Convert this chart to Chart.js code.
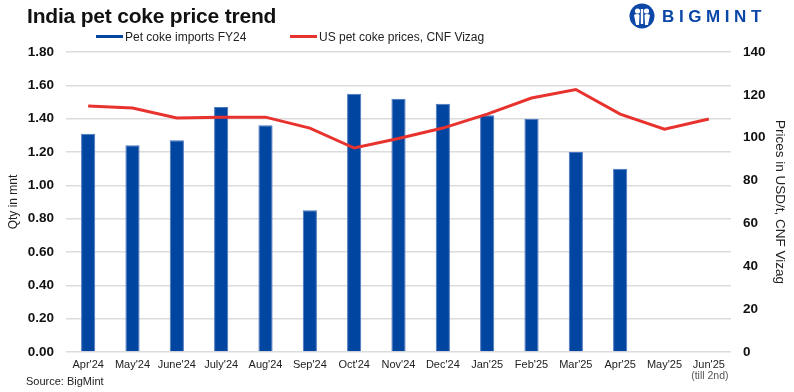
<!DOCTYPE html>
<html>
<head>
<meta charset="utf-8">
<script src="https://cdn.jsdelivr.net/npm/chart.js@4.4.0/dist/chart.umd.min.js"></script>
<style>
  html, body { margin: 0; padding: 0; background: #fff; }
  body { width: 794px; height: 392px; position: relative; overflow: hidden; font-family: "Liberation Sans", Arial, sans-serif; color: #111; }
  #chart { position: absolute; left: 0; top: 0; }
  .title { position: absolute; left: 27px; top: 4px; font-size: 21px; font-weight: bold; color: #111; letter-spacing: -0.2px; }
  .legend { position: absolute; top: 29px; font-size: 12px; color: #222; line-height: 16px; white-space: nowrap; }
  .legend span.sw { display: inline-block; width: 27px; height: 3px; vertical-align: middle; margin-right: 2px; position: relative; top: -1px; }
  .source { position: absolute; left: 26px; top: 375px; font-size: 11px; color: #222; }
  .logo { position: absolute; left: 629px; top: 3px; height: 26px; }
  .logo .txt { position: absolute; left: 33px; top: 4px; font-size: 17px; font-weight: bold; color: #0a47a6; letter-spacing: 4.6px; }
</style>
</head>
<body>
<canvas id="chart" width="794" height="392"></canvas>
<div class="title">India pet coke price trend</div>
<div class="legend" style="left:96px"><span class="sw" style="background:#0045a0"></span>Pet coke imports FY24</div>
<div class="legend" style="left:290px"><span class="sw" style="background:#e8322e"></span>US pet coke prices, CNF Vizag</div>
<div class="logo">
  <svg width="27" height="26" viewBox="0 0 27 26">
    <circle cx="13" cy="13" r="12.5" fill="#0a47a6"/>
    <circle cx="8.5" cy="8" r="2.6" fill="#fff"/>
    <circle cx="17.5" cy="8" r="2.6" fill="#fff"/>
    <rect x="11.8" y="6" width="2.4" height="15" fill="#fff"/>
    <path d="M5 12 Q8.5 10 10.5 12 L10 22 L7 22 Z" fill="#fff"/>
    <path d="M15.5 12 Q17.5 10 21 12 L19 22 L16 22 Z" fill="#fff"/>
  </svg>
  <div class="txt">BIGMINT</div>
</div>
<div class="source">Source: BigMint</div>

<script>
const months = ["Apr'24", "May'24", "June'24", "July'24", "Aug'24", "Sep'24", "Oct'24", "Nov'24",
                "Dec'24", "Jan'25", "Feb'25", "Mar'25", "Apr'25", "May'25", "Jun'25"];
const imports = [1.31, 1.24, 1.27, 1.47, 1.36, 0.85, 1.55, 1.52, 1.49, 1.42, 1.40, 1.20, 1.10, null, null];
const prices = [114.8, 113.9, 109.2, 109.6, 109.6, 104.5, 95.2, 99.6, 104.5, 111, 118.5, 122.5, 111, 104, 108.7];
const lastNote = '(till 2nd)';

const noteUnderLastTick = {
  id: 'noteUnderLastTick',
  afterDraw(chart) {
    const x = chart.scales.x.getPixelForValue(months.length - 1);
    const ctx = chart.ctx;
    ctx.save();
    ctx.font = '10.5px "Liberation Sans", Arial, sans-serif';
    ctx.fillStyle = '#555';
    ctx.textAlign = 'center';
    ctx.textBaseline = 'middle';
    ctx.fillText(lastNote, x + 1, 376);
    ctx.restore();
  }
};

const ctx = document.getElementById('chart').getContext('2d');
const chart = new Chart(ctx, {
  type: 'bar',
  data: {
    labels: months,
    datasets: [
      {
        type: 'line',
        label: 'US pet coke prices, CNF Vizag',
        data: prices,
        yAxisID: 'y1',
        borderColor: '#e8322e',
        borderWidth: 3,
        pointRadius: 0,
        tension: 0,
        order: 0
      },
      {
        type: 'bar',
        label: 'Pet coke imports FY24',
        data: imports,
        yAxisID: 'y',
        backgroundColor: '#0045a0',
        borderColor: '#4a74bd',
        borderWidth: 1,
        categoryPercentage: 1,
        barPercentage: 0.32,
        order: 1
      }
    ]
  },
  options: {
    responsive: false,
    animation: false,
    devicePixelRatio: 1,
    layout: { padding: { top: 52, bottom: 0, left: 0, right: 0 } },
    plugins: {
      legend: { display: false },
      tooltip: { enabled: false }
    },
    scales: {
      x: {
        grid: { display: false, drawTicks: false },
        border: { display: false },
        ticks: {
          color: '#222',
          font: { family: '"Liberation Sans", Arial, sans-serif', size: 11 },
          padding: 6,
          maxRotation: 0,
          autoSkip: false
        },
        afterFit(scale) { scale.height = 40; }
      },
      y: {
        position: 'left',
        min: 0,
        max: 1.8,
        grid: { color: '#dcdcdc', lineWidth: 1.5, drawTicks: false },
        border: { display: false },
        ticks: {
          stepSize: 0.2,
          padding: 12,
          color: '#111',
          font: { family: '"Liberation Sans", Arial, sans-serif', size: 13.5, weight: 'bold' },
          callback: v => v.toFixed(2)
        },
        title: {
          display: true,
          text: 'Qty in mnt',
          color: '#222',
          font: { family: '"Liberation Sans", Arial, sans-serif', size: 12 },
          padding: { top: 6, bottom: 0 }
        },
        afterFit(scale) { scale.width = 66; }
      },
      y1: {
        position: 'right',
        min: 0,
        max: 140,
        grid: { display: false, drawTicks: false },
        border: { display: false },
        ticks: {
          stepSize: 20,
          padding: 12,
          color: '#111',
          font: { family: '"Liberation Sans", Arial, sans-serif', size: 13.5, weight: 'bold' }
        },
        title: {
          display: true,
          text: 'Prices in USD/t, CNF Vizag',
          color: '#222',
          font: { family: '"Liberation Sans", Arial, sans-serif', size: 13.5 },
          padding: { top: 6, bottom: 0 }
        },
        afterFit(scale) { scale.width = 63; }
      }
    }
  },
  plugins: [noteUnderLastTick]
});
</script>
</body>
</html>
